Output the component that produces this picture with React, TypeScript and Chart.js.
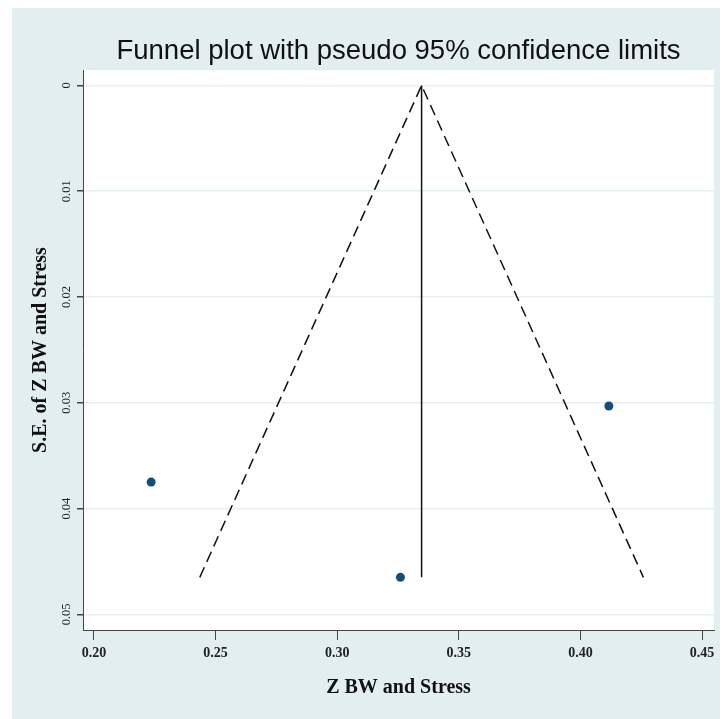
import React, { useEffect, useRef } from "react";
import { Chart, registerables } from "chart.js";

Chart.register(...registerables);

const titleText = "Funnel plot with pseudo 95% confidence limits";
const xTitle = "Z BW and Stress";
const yTitle = "S.E. of Z BW and Stress";

// study estimates
const studyZ = [0.2235, 0.326, 0.4117];
const studySE = [0.0375, 0.0465, 0.0303];

// pseudo 95% confidence limits (dashed funnel)
const funnelZ = [0.2435, 0.3347, 0.4259];
const funnelSE = [0.0465, 0, 0.0465];

// pooled estimate line
const pooledZ = [0.3347, 0.3347];
const pooledSE = [0, 0.0465];

const xTicks = [0.2, 0.25, 0.3, 0.35, 0.4, 0.45];
const xTickLabels = ["0.20", "0.25", "0.30", "0.35", "0.40", "0.45"];
const yTicks = [0, 0.01, 0.02, 0.03, 0.04, 0.05];
const yTickLabels = ["0", "0.01", "0.02", "0.03", "0.04", "0.05"];

const BG = "#e3eef0";
const GRID = "#e6f0f2";
const AXIS = "#444444";
const NAVY = "#114d7d";

const bgPlugin = {
  id: "stataBg",
  beforeDraw(chart: any) {
    const { ctx, width, height, chartArea } = chart;
    ctx.save();
    ctx.fillStyle = "#ffffff";
    ctx.fillRect(0, 0, width, height);
    ctx.fillStyle = BG;
    ctx.fillRect(12, 8, width - 12, height - 8);
    ctx.fillStyle = "#ffffff";
    ctx.fillRect(
      chartArea.left,
      chartArea.top,
      chartArea.right - chartArea.left,
      chartArea.bottom - chartArea.top
    );
    ctx.restore();
  },
};

const yLabelPlugin = {
  id: "yRotLabels",
  afterDraw(chart: any) {
    const ys = chart.scales.y;
    const ctx = chart.ctx;
    ctx.save();
    ctx.font = '12.5px "Liberation Serif"';
    ctx.fillStyle = "#222222";
    ctx.textAlign = "center";
    ctx.textBaseline = "middle";
    yTicks.forEach((v, i) => {
      const py = ys.getPixelForValue(v);
      ctx.save();
      ctx.translate(ys.right - 16, py);
      ctx.rotate(-Math.PI / 2);
      ctx.fillText(yTickLabels[i], 0, 0);
      ctx.restore();
    });
    ctx.restore();
  },
};

export default function App() {
  const ref = useRef<HTMLCanvasElement | null>(null);

  useEffect(() => {
    if (!ref.current) return;
    const chart = new Chart(ref.current, {
      type: "scatter",
      data: {
        datasets: [
          {
            type: "line",
            label: "funnel",
            data: funnelZ.map((x, i) => ({ x, y: funnelSE[i] })),
            showLine: true,
            borderColor: "#111111",
            borderWidth: 1.5,
            borderDash: [11, 6],
            pointRadius: 0,
            fill: false,
            tension: 0,
          } as any,
          {
            type: "line",
            label: "pooled",
            data: pooledZ.map((x, i) => ({ x, y: pooledSE[i] })),
            showLine: true,
            borderColor: "#111111",
            borderWidth: 1.5,
            pointRadius: 0,
            fill: false,
            tension: 0,
          } as any,
          {
            type: "scatter",
            label: "studies",
            data: studyZ.map((x, i) => ({ x, y: studySE[i] })),
            backgroundColor: NAVY,
            borderWidth: 0,
            pointRadius: 4.5,
          },
        ],
      },
      options: {
        animation: false,
        responsive: false,
        devicePixelRatio: 1,
        layout: { padding: { top: 35, right: 6, bottom: 0, left: 0 } },
        plugins: {
          legend: { display: false },
          tooltip: { enabled: false },
          title: {
            display: true,
            text: titleText,
            fullSize: false,
            color: "#111111",
            font: { family: "Liberation Sans", size: 27.5, weight: "normal" },
            padding: { top: 0, bottom: 2 },
          },
        },
        scales: {
          x: {
            type: "linear",
            min: 0.19548,
            max: 0.45493,
            afterBuildTicks: (s: any) => {
              s.ticks = xTicks.map((v) => ({ value: v }));
            },
            afterFit: (s: any) => {
              s.height = 89;
            },
            grid: {
              display: true,
              drawOnChartArea: false,
              drawTicks: true,
              tickLength: 10,
              tickColor: AXIS,
              color: AXIS,
            },
            border: { display: true, color: AXIS, width: 1 },
            ticks: {
              autoSkip: false,
              maxRotation: 0,
              minRotation: 0,
              padding: 5,
              color: "#222222",
              font: { family: "Liberation Serif", size: 14, weight: "bold" },
              callback: (_v: any, i: number) => xTickLabels[i],
            },
            title: {
              display: true,
              text: xTitle,
              color: "#111111",
              font: { family: "Liberation Serif", size: 20, weight: "bold" },
              padding: { top: 0, bottom: 19 },
            },
          },
          y: {
            type: "linear",
            reverse: true,
            min: -0.00146,
            max: 0.05148,
            afterBuildTicks: (s: any) => {
              s.ticks = yTicks.map((v) => ({ value: v }));
            },
            afterFit: (s: any) => {
              s.width = 83;
            },
            grid: {
              display: true,
              drawOnChartArea: true,
              drawTicks: true,
              tickLength: 6,
              color: GRID,
              tickColor: AXIS,
              lineWidth: 1.5,
            },
            border: { display: true, color: AXIS, width: 1 },
            ticks: { display: false },
            title: {
              display: true,
              text: yTitle,
              color: "#111111",
              font: { family: "Liberation Serif", size: 20, weight: "bold" },
              padding: { top: 29, bottom: 0 },
            },
          },
        },
      },
      plugins: [bgPlugin, yLabelPlugin],
    });
    return () => chart.destroy();
  }, []);

  return (
    <div style={{ position: "absolute", left: 0, top: 0, width: 720, height: 719 }}>
      <canvas ref={ref} width={720} height={719} style={{ width: 720, height: 719 }} />
    </div>
  );
}
